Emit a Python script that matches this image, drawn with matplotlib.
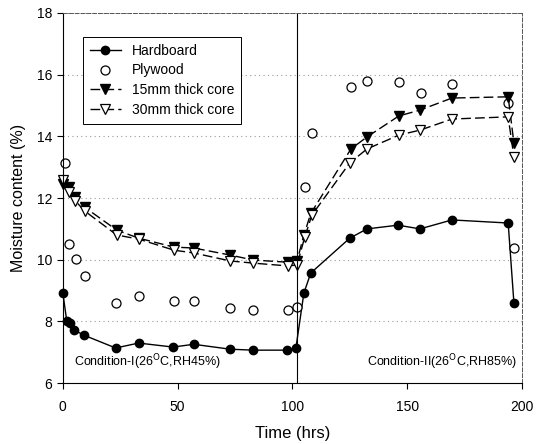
import matplotlib
matplotlib.use('Agg')
import matplotlib.pyplot as plt

plt.rcParams['font.family'] = ['Liberation Sans', 'DejaVu Sans']

# data
hb_t = [0, 1.7, 3, 5, 9, 23, 33, 48, 57, 73, 83, 97.6, 101.5, 105, 108, 125, 132.5, 146, 155.6, 169.5, 194, 196.5]
hb_v = [8.92, 8.01, 7.95, 7.72, 7.56, 7.14, 7.30, 7.17, 7.26, 7.10, 7.07, 7.07, 7.13, 8.92, 9.57, 10.70, 11.0, 11.12, 11.0, 11.29, 11.19, 8.6]

ply_t = [0.9, 2.6, 5.7, 9.6, 23, 33, 48.4, 57, 73, 83, 98, 102, 105.4, 108.5, 125.5, 132.5, 146.4, 156, 169.5, 194, 196.5]
ply_v = [13.14, 10.5, 10.02, 9.47, 8.59, 8.82, 8.66, 8.66, 8.43, 8.37, 8.37, 8.47, 12.36, 14.1, 15.6, 15.8, 15.76, 15.4, 15.7, 15.08, 10.38]

c15_t = [0, 2.7, 5.5, 9.5, 23.5, 33, 48.4, 57, 73, 83, 98, 102, 105, 108, 125.5, 132.5, 146.4, 155.6, 169.5, 194, 196.5]
c15_v = [12.45, 12.36, 12.03, 11.7, 10.96, 10.7, 10.41, 10.38, 10.15, 9.99, 9.92, 9.95, 10.8, 11.5, 13.59, 13.98, 14.66, 14.85, 15.24, 15.28, 13.78]

c30_t = [0, 2.7, 5.5, 9.5, 23.5, 33, 48.4, 57, 73, 83, 98, 102, 105.4, 108.5, 125, 132.5, 146.4, 155.6, 169.5, 194, 196.5]
c30_v = [12.58, 12.2, 11.9, 11.58, 10.8, 10.67, 10.31, 10.22, 9.96, 9.89, 9.8, 9.83, 10.74, 11.45, 13.14, 13.59, 14.04, 14.2, 14.56, 14.63, 13.33]

switch_t = 102

fig = plt.figure(figsize=(5.42, 4.44), dpi=100)
ax = fig.add_axes([0.116, 0.137, 0.847, 0.834])

ax.plot(hb_t, hb_v, color='black', lw=1.0, marker='o', ms=6,
        mfc='black', mec='black', label='Hardboard', clip_on=False)
ax.plot(ply_t, ply_v, ls='none', marker='o', ms=6.5,
        mfc='white', mec='black', mew=0.9, label='Plywood', clip_on=False)
ax.plot(c15_t, c15_v, color='black', lw=1.0, ls=(0, (7, 3)), marker='v', ms=6.5,
        mfc='black', mec='black', label='15mm thick core', clip_on=False)
ax.plot(c30_t, c30_v, color='black', lw=1.0, ls=(0, (7, 3)), marker='v', ms=6.5,
        mfc='white', mec='black', mew=0.9, label='30mm thick core', clip_on=False)

ax.axvline(switch_t, color='black', lw=0.8)

ax.set_xlim(0, 200)
ax.set_ylim(6, 18)
ax.set_xticks([0, 50, 100, 150, 200])
ax.set_yticks([6, 8, 10, 12, 14, 16, 18])
ax.tick_params(direction='out', length=4, width=0.8, labelsize=10)
ax.tick_params(axis='x', pad=8)
ax.yaxis.grid(True, color='#999999', ls=(0, (1, 3)), lw=0.8)

for side in ['top', 'right']:
    ax.spines[side].set_linestyle((0, (4, 2)))
    ax.spines[side].set_linewidth(0.7)
    ax.spines[side].set_color('#555555')

ax.set_xlabel('Time (hrs)', fontsize=12, labelpad=9)
ax.set_ylabel('Moisture content (%)', fontsize=11.5, labelpad=8)

ax.text(5, 6.35, 'Condition-I(26$^{\\mathrm{O}}$C,RH45%)', fontsize=9, ha='left', va='bottom')
ax.text(198, 6.35, 'Condition-II(26$^{\\mathrm{O}}$C,RH85%)', fontsize=9, ha='right', va='bottom')

leg = ax.legend(loc='upper left', bbox_to_anchor=(0.044, 0.935), borderaxespad=0,
                fontsize=10, frameon=True, fancybox=False, edgecolor='black',
                framealpha=1, handlelength=2.2, borderpad=0.5, labelspacing=0.4)
leg.get_frame().set_linewidth(0.7)

fig.savefig('out.png', dpi=100)
